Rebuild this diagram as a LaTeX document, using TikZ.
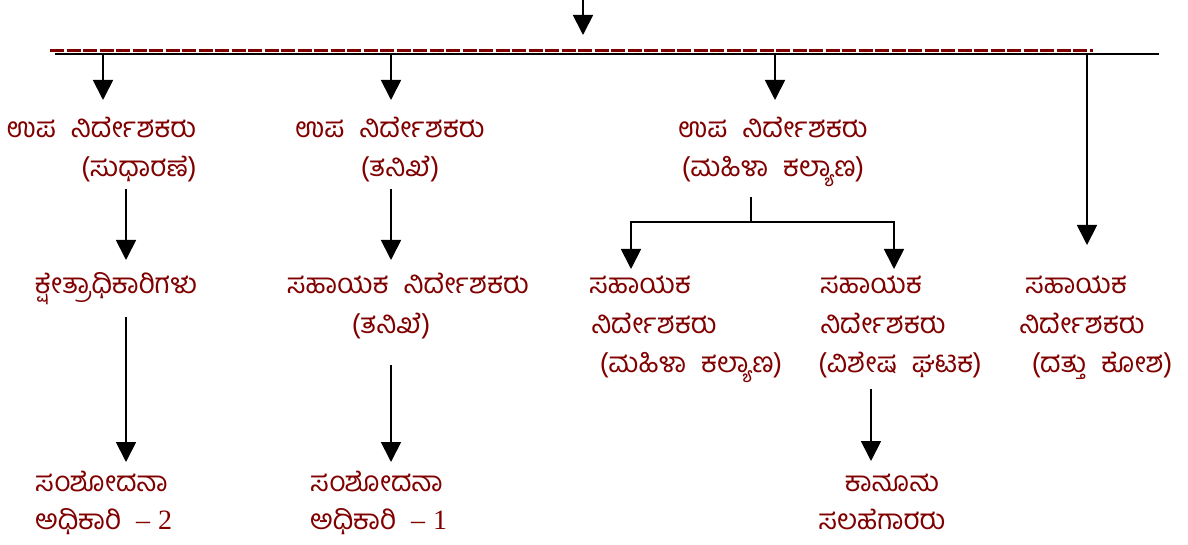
\documentclass[tikz,border=0pt]{standalone}
\usepackage{fontspec}
\newfontfamily\kn[Script=Kannada,WordSpace=2.2]{Hind Mysuru}
\newfontfamily\latserif{Liberation Serif}
\usetikzlibrary{arrows.meta}
\definecolor{krd}{RGB}{128,0,0}
\begin{document}
\begin{tikzpicture}[x=1pt,y=-1pt,
  lbl/.style={anchor=base, inner sep=0pt, text=krd, text height=17pt, text depth=5pt, font=\kn\fontsize{28}{32}\selectfont},
  two/.style={inner sep=0pt, text=krd, font=\kn\fontsize{28}{38}\selectfont},
  ln/.style={line width=1.8pt, black},
  arr/.style={ln, -{Triangle[width=20pt,length=20pt]}},
  busdash/.style={line width=2.6pt, krd, dash pattern=on 14pt off 2.5pt}]
\useasboundingbox (0,0) rectangle (1188,545);
% bus
\coordinate (topS) at (583,0);
\coordinate (topE) at (583,35);
\draw[arr] (topS) -- (topE);
\coordinate (dashL) at (50,50.5);
\coordinate (dashR) at (1093,50.5);
\draw[busdash] (dashL) -- (dashR);
\coordinate (busL) at (55,54);
\coordinate (busR) at (1159,54);
\draw[ln] (busL) -- (busR);
% texts
\node[lbl] (c1a) at (101.5,138) {ಉಪ ನಿರ್ದೇಶಕರು};
\node[lbl] (c1b) at (139,177) {(ಸುಧಾರಣೆ)};
\node[lbl] (c2a) at (390,138) {ಉಪ ನಿರ್ದೇಶಕರು};
\node[lbl] (c2b) at (400,177) {(ತನಿಖೆ)};
\node[lbl] (c3a) at (773,138) {ಉಪ ನಿರ್ದೇಶಕರು};
\node[lbl] (c3b) at (773,177) {(ಮಹಿಳಾ ಕಲ್ಯಾಣ)};
\node[lbl] (c1c) at (116,294) {ಕ್ಷೇತ್ರಾಧಿಕಾರಿಗಳು};
\node[lbl] (c2c) at (408,294) {ಸಹಾಯಕ ನಿರ್ದೇಶಕರು};
\node[lbl] (c2d) at (391,333) {(ತನಿಖೆ)};
\node[lbl] (c3c) at (640,294) {ಸಹಾಯಕ};
\node[lbl] (c3d) at (654,333) {ನಿರ್ದೇಶಕರು};
\node[lbl] (c3e) at (691,372) {(ಮಹಿಳಾ ಕಲ್ಯಾಣ)};
\node[lbl] (c4c) at (871,294) {ಸಹಾಯಕ};
\node[lbl] (c4d) at (883,333) {ನಿರ್ದೇಶಕರು};
\node[lbl] (c4e) at (900,372) {(ವಿಶೇಷ ಘಟಕ)};
\node[lbl] (c5c) at (1076,294) {ಸಹಾಯಕ};
\node[lbl] (c5d) at (1082,333) {ನಿರ್ದೇಶಕರು};
\node[lbl] (c5e) at (1102,372) {(ದತ್ತು ಕೋಶ)};
\node[two, align=left, anchor=base west] (c1f) at (35,529) {ಸಂಶೋದನಾ\\ಅಧಿಕಾರಿ {\latserif –\hspace{8pt}2}};
\node[two, align=left, anchor=base west] (c2f) at (310,529) {ಸಂಶೋದನಾ\\ಅಧಿಕಾರಿ {\latserif –\hspace{8pt}1}};
\node[two, align=center, anchor=base] (c4f) at (882,529) {\hspace{20pt}ಕಾನೂನು\\ಸಲಹೆಗಾರರು};
% arrows from bus
\coordinate (b1) at (103,54);  \coordinate (b1e) at (103,100);
\coordinate (b2) at (391,54);  \coordinate (b2e) at (391,100);
\coordinate (b3) at (775,54);  \coordinate (b3e) at (775,100);
\coordinate (b4) at (1087,54); \coordinate (b4e) at (1087,245);
\draw[arr] (b1) -- (b1e);
\draw[arr] (b2) -- (b2e);
\draw[arr] (b3) -- (b3e);
\draw[arr] (b4) -- (b4e);
% column 1
\coordinate (a1s) at (126,189); \coordinate (a1e) at (126,260);
\coordinate (a2s) at (126,317); \coordinate (a2e) at (126,462);
\draw[arr] (a1s) -- (a1e);
\draw[arr] (a2s) -- (a2e);
% column 2
\coordinate (a3s) at (391,189); \coordinate (a3e) at (391,260);
\coordinate (a4s) at (391,365); \coordinate (a4e) at (391,462);
\draw[arr] (a3s) -- (a3e);
\draw[arr] (a4s) -- (a4e);
% column 3
\coordinate (stem) at (751,197);
\coordinate (hub) at (751,222);
\coordinate (tipL) at (631,269);
\coordinate (tipR) at (894,269);
\draw[ln] (stem) -- (hub);
\draw[arr] (hub) -| (tipL);
\draw[arr] (hub) -| (tipR);
\coordinate (a5s) at (871,389); \coordinate (a5e) at (871,461);
\draw[arr] (a5s) -- (a5e);
\end{tikzpicture}
\end{document}
